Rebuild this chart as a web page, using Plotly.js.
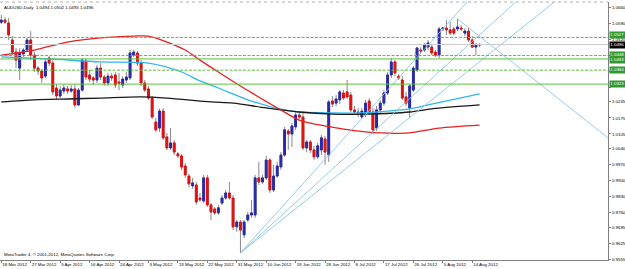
<!DOCTYPE html>
<html><head><meta charset="utf-8">
<script src="https://cdn.plot.ly/plotly-3.0.1.min.js"></script>
<style>html,body{margin:0;padding:0;background:#fff}#chart{width:625px;height:269px}</style>
</head><body><div id="chart"></div>
<script>
// ---- data ----
const dateLabels = ["18 Mar 2012","27 Mar 2012","5 Apr 2012","16 Apr 2012","24 Apr 2012","3 May 2012","13 May 2012","22 May 2012","31 May 2012","10 Jun 2012","19 Jun 2012","28 Jun 2012","8 Jul 2012","17 Jul 2012","26 Jul 2012","5 Aug 2012","14 Aug 2012"];
const labelBars = [0,8,16,24,32,40,48,56,64,72,80,88,96,104,112,120,128];

const open = [
1.0594,1.0603,1.0590,1.0516,1.0463,1.0393,1.0455,1.0472,1.0516,1.0450,
1.0393,1.0380,1.0358,1.0437,1.0415,1.0306,1.0271,1.0293,1.0302,1.0293,
1.0302,1.0232,1.0297,1.0424,1.0363,1.0350,1.0341,1.0393,1.0354,1.0328,
1.0358,1.0363,1.0332,1.0319,1.0341,1.0350,1.0450,1.0459,1.0415,1.0328,
1.0302,1.0262,1.0157,1.0131,1.0205,1.0092,1.0044,1.0066,1.0018,1.0009,
0.9965,0.9921,0.9878,0.9882,0.9825,0.9812,0.9913,0.9795,0.9777,0.9760,
0.9803,0.9825,0.9847,0.9825,0.9699,0.9720,0.9664,0.9729,0.9751,0.9751,
0.9913,0.9895,0.9913,0.9991,0.9860,0.9921,0.9961,1.0013,1.0118,1.0105,
1.0136,1.0188,1.0179,1.0044,1.0070,1.0035,1.0005,1.0035,1.0083,1.0013,
1.0249,1.0240,1.0254,1.0284,1.0289,1.0275,1.0210,1.0201,1.0179,1.0197,
1.0249,1.0201,1.0131,1.0210,1.0240,1.0284,1.0363,1.0420,1.0358,1.0341,
1.0267,1.0219,1.0297,1.0385,1.0472,1.0472,1.0485,1.0485,1.0463,1.0450,
1.0564,1.0568,1.0560,1.0564,1.0564,1.0568,1.0546,1.0555,1.0516,1.0485,
1.0494];
const high = [
1.0625,1.0616,1.0612,1.0533,1.0481,1.0481,1.0481,1.0525,1.0555,1.0463,
1.0402,1.0389,1.0437,1.0446,1.0428,1.0323,1.0315,1.0323,1.0315,1.0319,
1.0323,1.0306,1.0437,1.0437,1.0385,1.0358,1.0407,1.0415,1.0363,1.0372,
1.0372,1.0376,1.0372,1.0358,1.0376,1.0472,1.0472,1.0468,1.0428,1.0341,
1.0315,1.0271,1.0175,1.0215,1.0219,1.0109,1.0131,1.0079,1.0026,1.0018,
0.9978,0.9930,0.9913,0.9895,0.9847,0.9926,0.9926,0.9803,0.9786,0.9795,
0.9838,0.9860,0.9895,0.9838,0.9729,0.9729,0.9729,0.9764,0.9817,0.9926,
0.9983,0.9926,1.0009,1.0000,0.9970,0.9983,1.0026,1.0136,1.0127,1.0153,
1.0201,1.0201,1.0197,1.0079,1.0079,1.0053,1.0066,1.0101,1.0096,1.0254,
1.0271,1.0275,1.0297,1.0297,1.0341,1.0289,1.0227,1.0219,1.0219,1.0254,
1.0262,1.0219,1.0227,1.0254,1.0297,1.0376,1.0437,1.0428,1.0367,1.0358,
1.0289,1.0323,1.0402,1.0485,1.0485,1.0503,1.0516,1.0494,1.0472,1.0573,
1.0573,1.0603,1.0594,1.0573,1.0608,1.0581,1.0568,1.0573,1.0533,1.0503,
1.0502];
const low = [
1.0586,1.0586,1.0516,1.0450,1.0393,1.0341,1.0442,1.0463,1.0428,1.0376,
1.0363,1.0328,1.0350,1.0402,1.0275,1.0254,1.0262,1.0280,1.0280,1.0284,
1.0219,1.0227,1.0289,1.0341,1.0332,1.0319,1.0328,1.0341,1.0315,1.0315,
1.0337,1.0306,1.0297,1.0306,1.0328,1.0341,1.0442,1.0402,1.0315,1.0289,
1.0254,1.0171,1.0114,1.0114,1.0079,1.0035,1.0035,1.0013,1.0000,0.9948,
0.9913,0.9873,0.9865,0.9795,0.9808,0.9803,0.9786,0.9729,0.9751,0.9751,
0.9795,0.9817,0.9817,0.9685,0.9677,0.9585,0.9650,0.9720,0.9738,0.9738,
0.9882,0.9887,0.9904,0.9847,0.9852,0.9913,0.9948,1.0005,1.0035,1.0048,
1.0123,1.0171,1.0035,1.0026,1.0022,0.9991,0.9996,1.0013,0.9970,0.9983,
1.0223,1.0227,1.0236,1.0254,1.0258,1.0201,1.0188,1.0179,1.0171,1.0179,
1.0188,1.0105,1.0118,1.0197,1.0227,1.0275,1.0350,1.0358,1.0341,1.0254,
1.0227,1.0175,1.0289,1.0376,1.0459,1.0463,1.0472,1.0450,1.0442,1.0437,
1.0555,1.0538,1.0538,1.0538,1.0555,1.0555,1.0533,1.0507,1.0481,1.0450,
1.0485];
const close = [
1.0603,1.0594,1.0538,1.0463,1.0428,1.0459,1.0472,1.0516,1.0450,1.0393,
1.0380,1.0350,1.0420,1.0415,1.0289,1.0271,1.0297,1.0306,1.0293,1.0302,
1.0232,1.0297,1.0428,1.0354,1.0345,1.0341,1.0393,1.0354,1.0328,1.0358,
1.0350,1.0319,1.0328,1.0345,1.0354,1.0459,1.0463,1.0415,1.0328,1.0297,
1.0262,1.0179,1.0123,1.0205,1.0088,1.0044,1.0066,1.0026,1.0009,0.9961,
0.9926,0.9887,0.9891,0.9808,0.9817,0.9913,0.9795,0.9764,0.9760,0.9782,
0.9825,0.9847,0.9825,0.9699,0.9720,0.9685,0.9720,0.9751,0.9760,0.9913,
0.9895,0.9913,0.9991,0.9860,0.9921,0.9965,1.0013,1.0123,1.0105,1.0140,
1.0188,1.0179,1.0044,1.0070,1.0035,1.0005,1.0053,1.0088,1.0026,1.0245,
1.0236,1.0258,1.0289,1.0262,1.0267,1.0210,1.0201,1.0197,1.0205,1.0240,
1.0197,1.0123,1.0210,1.0240,1.0284,1.0363,1.0420,1.0372,1.0350,1.0262,
1.0240,1.0315,1.0393,1.0481,1.0468,1.0494,1.0503,1.0459,1.0450,1.0564,
1.0568,1.0560,1.0546,1.0546,1.0573,1.0564,1.0555,1.0516,1.0485,1.0494,
1.0496];

// moving averages (sampled at bar indices)
const redMA_x = [0,9,18,27,36,40,45,50,54,59,65,76,81,88,99,110,119,130];
const redMA_y = [1.0450,1.0472,1.0507,1.0525,1.0533,1.0533,1.0507,1.0472,1.0428,1.0376,1.0315,1.0210,1.0166,1.0140,1.0114,1.0109,1.0131,1.0144];
const cyanMA_x = [0,13,27,40,49,54,59,68,77,81,90,98,105,111,116,130];
const cyanMA_y = [1.0442,1.0433,1.0420,1.0415,1.0376,1.0337,1.0306,1.0249,1.0210,1.0201,1.0197,1.0197,1.0205,1.0215,1.0232,1.0280];
const blackMA_x = [0,9,18,27,38,45,57,63,72,81,90,99,111,117,130];
const blackMA_y = [1.0245,1.0254,1.0258,1.0262,1.0267,1.0262,1.0245,1.0240,1.0219,1.0201,1.0192,1.0192,1.0201,1.0215,1.0232];

// trend lines: start point and a second point (bar index, price)
const fanStart = [65, 0.9585];
const fanThrough_x = [127.1, 140.4, 151.0];
const fanThrough_y = [1.0691, 1.0691, 1.0691];
const downStart = [124, 1.0608];
const downThrough = [164.9, 1.0088];

// horizontal levels
const levels = [1.0527, 1.0448, 1.0433, 1.0384, 1.0323];
const levelDash = ['3px,1.5px','3px,1.5px','solid','3px,1.5px','solid'];
const levelText = ["1.0527","1.0448","1.0433","1.0384","1.0323"];
const bid = 1.0496;

// price-scale labels (those hidden behind the level boxes in the reference are left as bare ticks)
const yTicks = [1.0660,1.0590,1.0520,1.0450,1.0380,1.0310,1.0245,1.0175,1.0105,1.0040,0.9970,0.9900,0.9830,0.9760,0.9695,0.9625,0.9555];
const yTickText = ["1.0660","1.0590","1.0520","","","","1.0245","1.0175","1.0105","1.0040","0.9970","0.9900","0.9830","0.9760","0.9695","0.9625","0.9555"];

// ---- build ----
const bars = open.map((_, i) => i);
const bodyHi = open.map((o, i) => Math.max(o, close[i]));
const bodyLo = open.map((o, i) => Math.min(o, close[i]));

const wickCol = '#8a8a8a';
const traces = [];
traces.push({type:'candlestick', x:bars, open:open, high:high, low:low, close:close,
  increasing:{line:{color:wickCol,width:1}, fillcolor:wickCol},
  decreasing:{line:{color:wickCol,width:1}, fillcolor:wickCol},
  whiskerwidth:0, hoverinfo:'skip', showlegend:false});
traces.push({type:'candlestick', x:bars, open:open, high:bodyHi, low:bodyLo, close:close,
  increasing:{line:{color:'#2a2aa8',width:1}, fillcolor:'#2a2aa8'},
  decreasing:{line:{color:'#e41010',width:1}, fillcolor:'#e41010'},
  whiskerwidth:0, hoverinfo:'skip', showlegend:false});

function ma(xs, ys, col) {
  return {type:'scatter', mode:'lines', x:xs, y:ys, line:{color:col, width:1.3, shape:'spline', smoothing:0.8}, hoverinfo:'skip', showlegend:false};
}
traces.push(ma(cyanMA_x, cyanMA_y, '#2fb4ee'));
traces.push(ma(blackMA_x, blackMA_y, '#1a1a1a'));
traces.push(ma(redMA_x, redMA_y, '#e82020'));

function ray(x0, y0, x1, y1) {
  const xe = 175;
  const ye = y0 + (y1 - y0) * (xe - x0) / (x1 - x0);
  return {type:'scatter', mode:'lines', x:[x0, xe], y:[y0, ye], line:{color:'#8cc6e0', width:0.9}, hoverinfo:'skip', showlegend:false};
}
fanThrough_x.forEach((fx, k) => traces.push(ray(fanStart[0], fanStart[1], fx, fanThrough_y[k])));
traces.push(ray(downStart[0], downStart[1], downThrough[0], downThrough[1]));

const shapes = levels.map((lv, k) => ({type:'line', xref:'paper', x0:0, x1:1, yref:'y', y0:lv, y1:lv,
  line:{color:'#5cbf3c', width:1, dash:levelDash[k]}}));
shapes.push({type:'line', xref:'paper', x0:0, x1:1, yref:'y', y0:bid, y1:bid, line:{color:'#cccccc', width:1}});
shapes.push({type:'line', xref:'paper', x0:0, x1:1, yref:'paper', y0:1, y1:1, line:{color:'#b0b0b0', width:1, dash:'dot'}});

const fs = 4.4;
const fam = 'Liberation Sans, Arial';
const labelShift = [2.5, 1, -1.5, 0, 0];
const annotations = levels.map((lv, k) => ({xref:'paper', x:1, xanchor:'left', xshift:1, yref:'y', y:lv, yanchor:'middle', yshift:labelShift[k],
  text:levelText[k], showarrow:false, bgcolor:'#2f9a2f', font:{size:fs, color:'#ffffff', family:fam}, borderpad:0.3}));
annotations.push({xref:'paper', x:1, xanchor:'left', xshift:1, yref:'y', y:bid, yanchor:'middle', yshift:-0.5,
  text:bid.toFixed(4), showarrow:false, bgcolor:'#000000', font:{size:fs, color:'#ffffff', family:fam}, borderpad:0.3});
annotations.push({xref:'paper', x:0, xanchor:'left', xshift:2, yref:'paper', y:1, yanchor:'top', yshift:-1,
  text:'AUDUSD,Daily  1.0494 1.0502 1.0495 1.0496', showarrow:false, font:{size:fs, color:'#000', family:fam}});
annotations.push({xref:'paper', x:0, xanchor:'left', xshift:2, yref:'paper', y:0, yanchor:'bottom', yshift:1,
  text:'MetaTrader 4, © 2001-2012, MetaQuotes Software Corp.', showarrow:false, font:{size:fs, color:'#000', family:fam}});

const layout = {
  width:625, height:269,
  margin:{l:0, r:17, t:2, b:9, pad:0},
  paper_bgcolor:'#ffffff', plot_bgcolor:'#ffffff',
  showlegend:false,
  font:{family:fam, size:fs, color:'#000'},
  xaxis:{type:'linear', range:[-0.35, 164.9], showgrid:false, zeroline:false,
    showline:true, linecolor:'#808080', linewidth:1,
    ticks:'outside', ticklen:2, tickcolor:'#808080', tickangle:0,
    tickvals:labelBars, ticktext:dateLabels, ticklabelposition:'outside right', ticklabelstandoff:0,
    tickfont:{size:fs, color:'#000'}, rangeslider:{visible:false}, fixedrange:true},
  yaxis:{side:'right', range:[0.9554, 1.0682], showgrid:false, zeroline:false,
    showline:true, linecolor:'#808080', linewidth:1,
    ticks:'outside', ticklen:2, tickcolor:'#808080',
    tickvals:yTicks, ticktext:yTickText,
    tickfont:{size:fs, color:'#000'}, fixedrange:true},
  shapes:shapes,
  annotations:annotations
};

Plotly.newPlot('chart', traces, layout, {staticPlot:true, displayModeBar:false});
</script></body></html>
